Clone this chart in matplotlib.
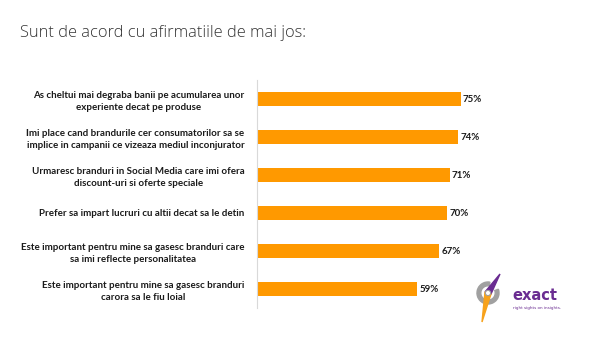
import matplotlib
matplotlib.use("Agg")
import matplotlib.pyplot as plt
from matplotlib.patches import Wedge, Polygon, Circle

categories = [
    "As cheltui mai degraba banii pe acumularea unor\nexperiente decat pe produse",
    "Imi place cand brandurile cer consumatorilor sa se\nimplice in campanii ce vizeaza mediul inconjurator",
    "Urmaresc branduri in Social Media care imi ofera\ndiscount-uri si oferte speciale",
    "Prefer sa impart lucruri cu altii decat sa le detin",
    "Este important pentru mine sa gasesc branduri care\nsa imi reflecte personalitatea",
    "Este important pentru mine sa gasesc branduri\ncarora sa le fiu loial",
]
values = [75, 74, 71, 70, 67, 59]

W, H = 600, 337
fig = plt.figure(figsize=(W / 100, H / 100), dpi=100)
fig.patch.set_facecolor("white")

fig.text(20 / W, 1 - 33 / H, "Sunt de acord cu afirmatiile de mai jos:",
         fontsize=11.8, color="#333333", family="Open Sans", fontweight="light",
         va="center", ha="left")

# axes: left edge at x=257, 1% = 2.72 px
x0 = 257
xmax = 110
ax_w = 2.72 * xmax
top, bottom = 80, 308
ax = fig.add_axes([x0 / W, 1 - bottom / H, ax_w / W, (bottom - top) / H])
n = len(values)
ypos = list(range(n))
ax.barh(ypos, values, height=0.35, color="#FF9900")
ax.set_ylim(n - 0.5, -0.5)
ax.set_xlim(0, xmax)
for s in ["top", "right", "bottom"]:
    ax.spines[s].set_visible(False)
ax.spines["left"].set_color("#d9d9d9")
ax.spines["left"].set_linewidth(0.8)
ax.set_xticks([])
ax.set_yticks(ypos)
ax.set_yticklabels(categories, fontsize=7.0, fontweight="bold", color="#1a1a1a",
                   multialignment="center", family="Lato", linespacing=1.45)
ax.tick_params(axis="y", length=0, pad=9)
for y, v in zip(ypos, values):
    ax.text(v + 0.7, y, f"{v}%", va="center", ha="left", fontsize=7.0,
            fontweight="bold", color="#1a1a1a", family="Lato")

# logo (1 unit = 1 px)
lax = fig.add_axes([470 / W, 1 - 330 / H, 130 / W, 70 / H])
lax.set_xlim(0, 130)
lax.set_ylim(0, 70)
lax.axis("off")
cx, cy = 18, 37
lax.add_patch(Wedge((cx, cy), 11, 80, 380, width=3.8, color="#a0a0a0"))
lax.add_patch(Polygon([[30, 56], [cx - 3, cy + 1], [cx + 3, cy - 1]], color="#6a2c91"))
lax.add_patch(Polygon([[12, 8], [cx - 3, cy + 1], [cx + 3, cy - 1]], color="#f7a21b"))
lax.add_patch(Circle((cx, cy), 2.6, color="white", ec="#a0a0a0", lw=0.8))
lax.text(42, 35, "exact", fontsize=10.5, fontweight="bold", color="#6a2c91",
         family="DejaVu Sans", va="center", ha="left")
lax.text(43, 22, "right sights on insights.", fontsize=3, color="#6a2c91",
         va="center", ha="left")

fig.savefig("out.png", dpi=100, facecolor="white")
